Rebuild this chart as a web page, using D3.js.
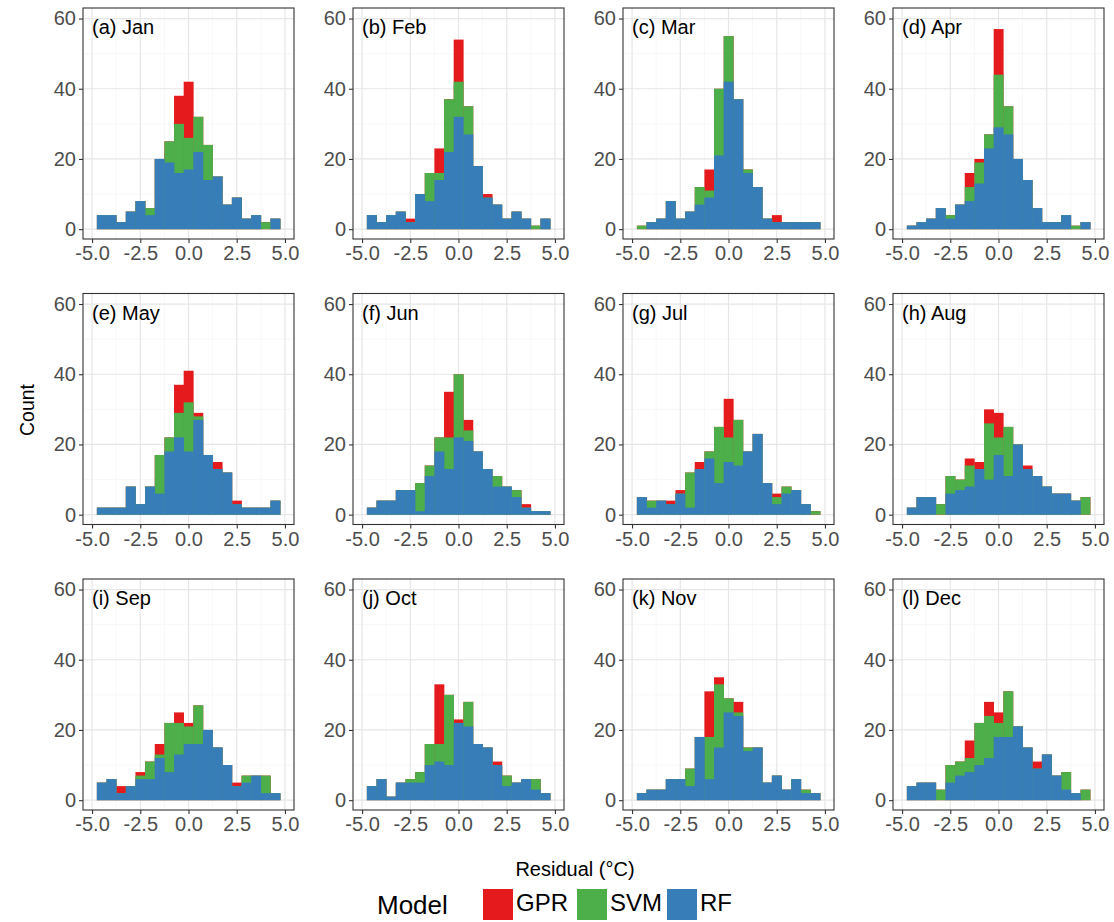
<!DOCTYPE html>
<html>
<head>
<meta charset="utf-8">
<script src="https://cdn.jsdelivr.net/npm/d3@7"></script>
<style>
  body { margin: 0; background: #fff; }
  svg { display: block; font-family: "Liberation Sans", Arial, sans-serif; }
</style>
</head>
<body>
<svg id="chart" width="1114" height="922"></svg>
<script>
// bin centres (residual, °C), bin width 0.5
var binCenters = [-4.5, -4, -3.5, -3, -2.5, -2, -1.5, -1, -0.5, 0, 0.5, 1, 1.5, 2, 2.5, 3, 3.5, 4, 4.5];
var binWidth = 0.5;

var panelLabels = ["(a) Jan", "(b) Feb", "(c) Mar", "(d) Apr", "(e) May", "(f) Jun",
	"(g) Jul", "(h) Aug", "(i) Sep", "(j) Oct", "(k) Nov", "(l) Dec"];

var models = ["GPR", "SVM", "RF"];
var modelColors = ["#E41A1C", "#4DAF4A", "#377EB8"];

var xTicks = [-5, -2.5, 0, 2.5, 5];
var xMinor = [-3.75, -1.25, 1.25, 3.75];
var yTicks = [0, 20, 40, 60];
var yMinor = [10, 30, 50];

// counts per month, one row per month (Jan..Dec), one value per bin
var gprCounts = [
	[4,4,2,5,8,6,20,25,38,42,32,24,15,7,9,3,4,2,3],
	[4,2,4,5,3,10,16,23,37,54,35,18,10,7,3,5,3,1,3],
	[1,2,3,8,3,5,12,17,40,55,37,17,12,3,4,2,2,2,2],
	[1,2,3,6,4,7,16,20,27,57,35,20,14,6,2,2,4,1,2],
	[2,2,2,8,3,8,17,22,37,41,29,17,15,12,4,2,2,2,4],
	[2,4,4,7,7,9,14,22,35,40,27,18,13,11,8,7,3,1,1],
	[5,4,4,4,7,12,15,18,25,33,27,18,23,9,6,8,7,3,1],
	[2,5,5,3,11,10,16,15,30,29,25,20,14,11,8,6,6,4,5],
	[5,6,4,4,8,11,16,22,25,22,27,20,15,10,5,7,7,7,2],
	[4,6,1,5,6,8,16,33,30,23,28,16,15,11,7,5,6,6,2],
	[2,3,3,6,6,9,18,31,35,29,28,15,15,5,7,3,6,3,2],
	[4,5,5,3,10,11,17,22,28,25,31,21,15,11,13,7,8,2,3]
];
var svmCounts = [
	[4,4,2,5,8,6,20,25,30,26,32,24,15,7,9,3,4,2,3],
	[4,2,4,5,2,10,16,16,37,42,35,18,9,7,3,5,3,1,3],
	[1,2,3,8,3,5,12,11,40,55,37,17,12,3,2,2,2,2,2],
	[1,2,3,6,4,7,12,19,27,44,35,20,14,6,2,2,4,1,2],
	[2,2,2,8,3,8,17,22,29,32,28,17,13,12,3,2,2,2,4],
	[2,4,4,7,7,9,14,22,22,40,24,18,13,11,8,7,2,1,1],
	[5,4,4,3,6,12,13,18,25,22,27,18,23,9,5,8,7,3,1],
	[2,5,5,3,11,10,14,13,26,22,25,20,13,11,8,6,6,4,5],
	[5,6,2,4,7,11,13,22,22,21,27,20,15,10,4,7,7,7,2],
	[4,6,1,5,6,8,16,16,30,22,28,16,15,10,7,5,6,6,2],
	[2,3,3,6,6,9,18,18,33,29,25,15,15,5,7,3,6,3,2],
	[4,5,5,3,10,11,12,22,24,22,31,21,15,9,13,7,8,2,3]
];
var rfCounts = [
	[4,4,2,5,8,4,20,19,16,17,22,14,15,7,9,3,4,0,3],
	[4,2,4,5,2,10,8,14,22,32,27,18,9,7,3,5,3,0,3],
	[0,2,3,8,3,5,7,9,21,42,37,16,12,3,2,2,2,2,2],
	[1,2,3,6,3,7,8,13,23,29,27,20,14,6,2,2,4,0,2],
	[2,2,2,8,3,8,6,18,22,18,27,17,13,12,3,2,2,2,4],
	[2,4,4,7,7,1,11,18,13,22,21,18,13,8,8,5,2,1,1],
	[5,2,4,3,6,2,13,16,9,15,14,18,23,9,3,6,7,3,0],
	[2,5,5,0,6,7,8,13,10,17,11,20,13,11,8,6,6,4,0],
	[5,6,2,4,6,6,12,8,13,16,16,20,15,10,4,5,7,2,2],
	[4,6,1,5,5,5,10,11,10,22,21,16,15,10,4,5,6,3,2],
	[2,3,3,6,6,4,18,6,15,25,24,14,15,5,7,3,6,2,2],
	[4,5,5,0,5,7,8,10,12,18,18,21,15,9,13,7,3,2,0]
];
var seriesCounts = [gprCounts, svmCounts, rfCounts];

var svg = d3.select("#chart");

var colLeft = [83, 353, 623, 893];
var rowTop = [8, 293.5, 579];
var pw = 211, ph = 231;

var x = d3.scaleLinear().domain([-5.47, 5.47]).range([0, pw]);
var y = d3.scaleLinear().domain([-2.8, 63]).range([ph, 0]);

panelLabels.forEach(function(label, i) {
	var g = svg.append("g")
			.attr("transform", "translate(" + colLeft[i % 4] + "," + rowTop[Math.floor(i / 4)] + ")");

	g.append("rect").attr("width", pw).attr("height", ph).attr("fill", "#fff");

	// grid
	var grid = g.append("g").attr("fill", "none");
	grid.selectAll(".vmin").data(xMinor).enter().append("line")
		.attr("x1", x).attr("x2", x).attr("y1", 0).attr("y2", ph)
		.attr("stroke", "#F2F2F2").attr("stroke-width", 0.6);
	grid.selectAll(".hmin").data(yMinor).enter().append("line")
		.attr("y1", y).attr("y2", y).attr("x1", 0).attr("x2", pw)
		.attr("stroke", "#F2F2F2").attr("stroke-width", 0.6);
	grid.selectAll(".vmaj").data(xTicks).enter().append("line")
		.attr("x1", x).attr("x2", x).attr("y1", 0).attr("y2", ph)
		.attr("stroke", "#E6E6E6").attr("stroke-width", 1.2);
	grid.selectAll(".hmaj").data(yTicks).enter().append("line")
		.attr("y1", y).attr("y2", y).attr("x1", 0).attr("x2", pw)
		.attr("stroke", "#E6E6E6").attr("stroke-width", 1.2);

	// histograms drawn on top of each other: GPR, then SVM, then RF
	seriesCounts.forEach(function(counts, s) {
		g.append("g").selectAll("rect")
			.data(counts[i].map(function(v, b) { return { c: binCenters[b], v: v }; })
				.filter(function(d) { return d.v > 0; }))
			.enter().append("rect")
			.attr("x", function(d) { return x(d.c - binWidth / 2); })
			.attr("width", function(d) { return x(d.c + binWidth / 2) - x(d.c - binWidth / 2) + 0.3; })
			.attr("y", function(d) { return y(d.v); })
			.attr("height", function(d) { return y(0) - y(d.v); })
			.attr("fill", modelColors[s]);
	});

	g.append("rect").attr("width", pw).attr("height", ph)
		.attr("fill", "none").attr("stroke", "#333").attr("stroke-width", 1.1);

	g.append("text").attr("x", 9).attr("y", 26)
		.attr("font-size", 20).attr("fill", "#000").text(label);

	var ax = g.append("g").attr("transform", "translate(0," + ph + ")")
		.call(d3.axisBottom(x).tickValues(xTicks).tickSize(4).tickPadding(3)
			.tickFormat(function(d) { return d.toFixed(1); }));
	var ay = g.append("g")
		.call(d3.axisLeft(y).tickValues(yTicks).tickSize(4).tickPadding(3));
	[ax, ay].forEach(function(a) {
		a.select(".domain").remove();
		a.selectAll("line").attr("stroke", "#333").attr("stroke-width", 1.1);
		a.selectAll("text").attr("font-size", 20).attr("fill", "#4D4D4D")
			.attr("font-family", "Liberation Sans, Arial, sans-serif");
	});
});

// axis titles
svg.append("text").attr("transform", "translate(34,410) rotate(-90)")
	.attr("text-anchor", "middle").attr("font-size", 19.5).text("Count");
svg.append("text").attr("x", 575).attr("y", 876)
	.attr("text-anchor", "middle").attr("font-size", 20).text("Residual (°C)");

// legend
svg.append("text").attr("x", 377).attr("y", 914).attr("font-size", 26).text("Model");
var keyX = [483, 577, 667];
models.forEach(function(m, k) {
	svg.append("rect").attr("x", keyX[k]).attr("y", 889).attr("width", 30).attr("height", 31)
		.attr("fill", modelColors[k]);
	svg.append("text").attr("x", keyX[k] + 33).attr("y", 911).attr("font-size", 24).text(m);
});
</script>
</body>
</html>
